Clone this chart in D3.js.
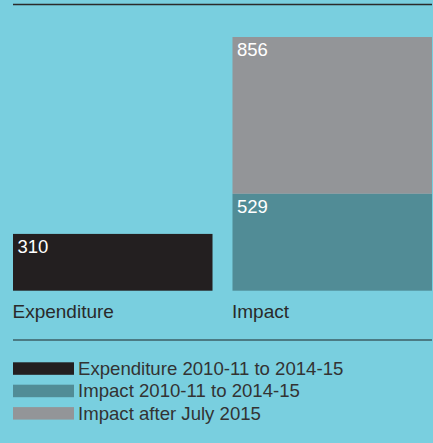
<!DOCTYPE html>
<html>
<head>
<meta charset="utf-8">
<script src="https://cdn.jsdelivr.net/npm/d3@7"></script>
<style>
  html, body { margin: 0; padding: 0; background: #79cfdf; }
  svg { display: block; font-family: "Liberation Sans", Arial, Helvetica, sans-serif; }
</style>
</head>
<body>
<div id="chart"></div>
<script>
// Categories along the x axis
const categories = ["Expenditure", "Impact"];
// Stack segments (bottom to top) with their values per category
const seriesNames = ["Expenditure 2010-11 to 2014-15", "Impact 2010-11 to 2014-15", "Impact after July 2015"];
const expenditureValues = [310, 0];
const impactValues = [0, 529];
const impactAfterValues = [0, 856];
const seriesColors = ["#231f20", "#518c96", "#939598"];

const W = 433, H = 443;
const svg = d3.select("#chart").append("svg").attr("width", W).attr("height", H);

svg.append("rect").attr("width", W).attr("height", H).attr("fill", "#79cfdf");

// Top rule
svg.append("line").attr("x1", 13).attr("x2", 432).attr("y1", 4.5).attr("y2", 4.5)
  .attr("stroke", "#2b2b2b").attr("stroke-width", 1.5);

const x = d3.scaleBand().domain(categories).range([13, 432]).paddingInner(0.091).paddingOuter(0);

const table = categories.map((c, i) => ({
  category: c,
  [seriesNames[0]]: expenditureValues[i],
  [seriesNames[1]]: impactValues[i],
  [seriesNames[2]]: impactAfterValues[i]
}));
const stacked = d3.stack().keys(seriesNames)(table);
const total = d3.max(stacked[stacked.length - 1], d => d[1]);

const y = d3.scaleLinear().domain([0, total]).range([290.7, 37]);

const layers = svg.append("g").selectAll("g").data(stacked).join("g")
  .attr("fill", (d, i) => seriesColors[i]);

layers.selectAll("rect").data(d => d.filter(s => s[1] > s[0])).join("rect")
  .attr("x", d => x(d.data.category))
  .attr("width", x.bandwidth())
  .attr("y", d => y(d[1]))
  .attr("height", d => y(d[0]) - y(d[1]));

// Value labels inside each segment, top-left
layers.selectAll("text").data(d => d.filter(s => s[1] > s[0])).join("text")
  .attr("x", d => x(d.data.category) + 4.5)
  .attr("y", d => y(d[1]) + 19)
  .attr("fill", "#ffffff")
  .attr("font-size", 18.5)
  .text(d => d3.format(",")(d[1] - d[0]));

// Category labels
svg.append("g").selectAll("text").data(categories).join("text")
  .attr("x", d => x(d) - 0.5)
  .attr("y", 318)
  .attr("fill", "#2a2a2a")
  .attr("font-size", 19)
  .text(d => d);

// Separator above the legend
svg.append("line").attr("x1", 13).attr("x2", 432).attr("y1", 340).attr("y2", 340)
  .attr("stroke", "#3d5f66").attr("stroke-width", 1.5);

// Legend
const legend = svg.append("g").selectAll("g").data(seriesNames).join("g")
  .attr("transform", (d, i) => `translate(13, ${362.3 + i * 22.4})`);
legend.append("rect").attr("width", 61).attr("height", 12.5)
  .attr("fill", (d, i) => seriesColors[i]);
legend.append("text").attr("x", 65).attr("y", 12.7)
  .attr("fill", "#333333").attr("font-size", 18.6)
  .text(d => d);
</script>
</body>
</html>
